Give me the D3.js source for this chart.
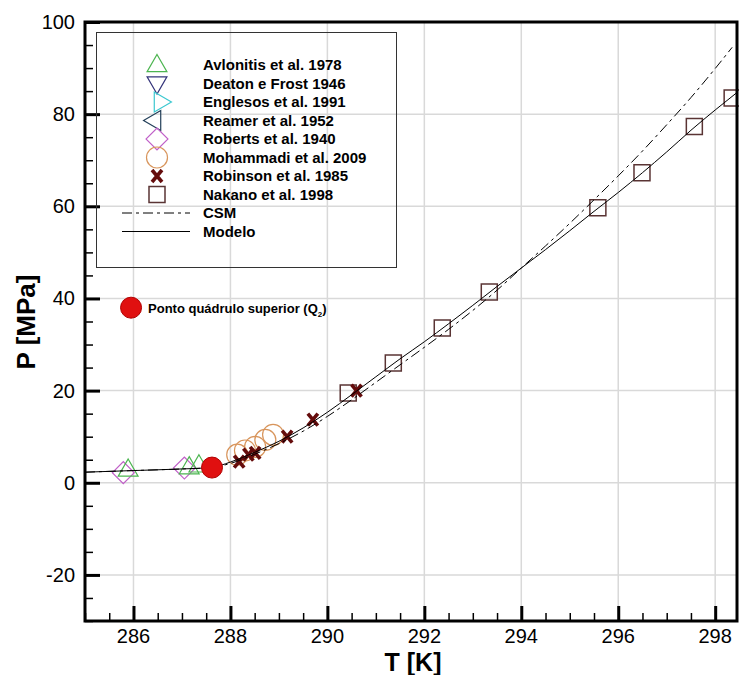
<!DOCTYPE html>
<html>
<head>
<meta charset="utf-8">
<script src="https://cdn.jsdelivr.net/npm/d3@7"></script>
<style>
	body { margin: 0; background: #fff; }
	svg { font-family: "Liberation Sans", Arial, sans-serif; }
</style>
</head>
<body>
<div id="chart"></div>
<script>
// data: T [K], P [MPa]
const avlonitisT = [285.89, 287.15, 287.35];
const avlonitisP = [2.9, 3.4, 3.8];
const robertsT = [285.79, 287.05];
const robertsP = [2.2, 3.2];
const mohammadiT = [288.14, 288.3, 288.51, 288.72, 288.88];
const mohammadiP = [6.1, 7.0, 7.8, 9.3, 10.4];
const robinsonT = [288.18, 288.37, 288.51, 289.17, 289.7, 290.6];
const robinsonP = [4.6, 6.1, 6.5, 10.0, 13.7, 20.0];
const nakanoT = [290.43, 291.36, 292.37, 293.34, 295.58, 296.49, 297.57, 298.35];
const nakanoP = [19.5, 26.0, 33.6, 41.4, 59.7, 67.3, 77.3, 83.5];
const modeloT = [285, 286, 287, 287.6, 288, 288.5, 289, 289.5, 290, 290.5, 291, 291.5, 292, 292.5, 293, 293.5, 294, 294.5, 295, 295.5, 296, 296.5, 297, 297.5, 298, 298.45];
const modeloP = [2.3, 2.65, 3.0, 3.3, 4.5, 6.6, 9.0, 11.9, 15.3, 19.1, 23.0, 26.9, 30.6, 34.5, 38.5, 42.6, 46.6, 50.6, 54.7, 58.9, 63.0, 67.3, 71.8, 76.5, 80.9, 84.7];
const csmT = [285, 286, 287, 287.6, 288, 288.5, 289, 289.5, 290, 290.5, 291, 291.5, 292, 292.5, 293, 293.5, 294, 294.5, 295, 295.5, 296, 296.5, 297, 297.5, 298, 298.35];
const csmP = [2.3, 2.65, 3.0, 3.3, 4.2, 6.2, 8.5, 11.2, 14.4, 18.0, 21.8, 25.6, 29.4, 33.3, 37.4, 41.8, 46.6, 51.4, 56.3, 61.4, 66.6, 72.0, 77.7, 83.6, 89.9, 94.5];
const quadPoint = [287.62, 3.3];
const quadLabelPoint = [285.95, 38.0];
const quadLabel = 'Ponto quádrulo superior (Q';
const xTicks = [286, 288, 290, 292, 294, 296, 298];
const yTicks = [-20, 0, 20, 40, 60, 80, 100];
const legendNames = ['Avlonitis et al. 1978', 'Deaton e Frost 1946', 'Englesos et al. 1991', 'Reamer et al. 1952',
	'Roberts et al. 1940', 'Mohammadi et al. 2009', 'Robinson et al. 1985', 'Nakano et al. 1998', 'CSM', 'Modelo'];

const width = 739;
const height = 675;
const plot = { left: 85, right: 737, top: 22, bottom: 621 };

const svg = d3.select('#chart').append('svg')
	.attr('width', width)
	.attr('height', height);

const x = d3.scaleLinear().domain([285, 298.45]).range([plot.left, plot.right]);
const y = d3.scaleLinear().domain([-30, 100]).range([plot.bottom, plot.top]);

// grid
const grid = svg.append('g');
grid.selectAll('.gx').data(xTicks).enter().append('line')
	.attr('x1', d => x(d)).attr('x2', d => x(d))
	.attr('y1', plot.top).attr('y2', plot.bottom)
	.style('stroke', '#d9d9d9').style('stroke-width', 1.5);
grid.selectAll('.gy').data(yTicks).enter().append('line')
	.attr('x1', plot.left).attr('x2', plot.right)
	.attr('y1', d => y(d)).attr('y2', d => y(d))
	.style('stroke', '#d9d9d9').style('stroke-width', 1.5);

// axes (ticks pointing inward)
const xAxis = d3.axisTop(x)
	.tickValues(d3.range(285, 298.5, 0.5))
	.tickSize(8)
	.tickFormat('');
const yAxis = d3.axisRight(y)
	.tickValues(d3.range(-30, 100.1, 5))
	.tickSize(8)
	.tickFormat('');

const xAxisG = svg.append('g')
	.attr('transform', `translate(0, ${plot.bottom})`)
	.call(xAxis);
const yAxisG = svg.append('g')
	.attr('transform', `translate(${plot.left}, 0)`)
	.call(yAxis);
[xAxisG, yAxisG].forEach(g => {
	g.select('.domain').remove();
	g.selectAll('line').style('stroke', '#000').style('stroke-width', 1.5);
});
xAxisG.selectAll('.tick line').filter(d => xTicks.includes(d))
	.attr('y2', -15).style('stroke-width', 3);
yAxisG.selectAll('.tick line').filter(d => yTicks.includes(d))
	.attr('x2', 15).style('stroke-width', 3);

// tick labels
svg.append('g').selectAll('text').data(xTicks).enter().append('text')
	.attr('x', d => x(d))
	.attr('y', plot.bottom + 22)
	.style('font-size', '20px')
	.style('text-anchor', 'middle')
	.text(d => d);
svg.append('g').selectAll('text').data(yTicks).enter().append('text')
	.attr('x', plot.left - 10)
	.attr('y', d => y(d) + 7)
	.style('font-size', '20px')
	.style('text-anchor', 'end')
	.text(d => d);

// axis titles
svg.append('text')
	.attr('x', (plot.left + plot.right) / 2 + 2)
	.attr('y', 671)
	.style('font-size', '25px')
	.style('font-weight', 700)
	.style('text-anchor', 'middle')
	.text('T [K]');
svg.append('text')
	.attr('transform', 'rotate(-90)')
	.attr('x', -322)
	.attr('y', 35)
	.style('font-size', '26px')
	.style('font-weight', 700)
	.style('text-anchor', 'middle')
	.text('P [MPa]');

// marker shapes
const colors = {
	avlonitis: '#4cb550', deaton: '#34347a', englesos: '#3cc8d0', reamer: '#24405a',
	roberts: '#c060c8', mohammadi: '#d8955c', robinson: '#650c0c', nakano: '#5a3434'
};
const tri = d3.symbol().type(d3.symbolTriangle).size(170);
const sq = d3.symbol().type(d3.symbolSquare).size(256);
const dia = d3.symbol().type(d3.symbolSquare).size(240);

function drawMarker(g, kind, cx, cy) {
	const m = g.append('g').attr('transform', `translate(${cx}, ${cy})`);
	const hollow = p => p.style('fill', 'none').style('stroke-width', 1.2);
	if (kind === 'avlonitis') {
		hollow(m.append('path').attr('d', tri()).attr('transform', 'translate(0,1)')).style('stroke', colors.avlonitis);
	} else if (kind === 'deaton') {
		hollow(m.append('path').attr('d', tri()).attr('transform', 'translate(0,-1) rotate(180)')).style('stroke', colors.deaton);
	} else if (kind === 'englesos') {
		hollow(m.append('path').attr('d', tri()).attr('transform', 'translate(3,0) rotate(90)')).style('stroke', colors.englesos);
	} else if (kind === 'reamer') {
		hollow(m.append('path').attr('d', tri()).attr('transform', 'translate(-2,0) rotate(-90)')).style('stroke', colors.reamer);
	} else if (kind === 'roberts') {
		hollow(m.append('path').attr('d', dia()).attr('transform', 'rotate(45)')).style('stroke', colors.roberts);
	} else if (kind === 'mohammadi') {
		hollow(m.append('circle').attr('r', 10.5)).style('stroke', colors.mohammadi);
	} else if (kind === 'robinson') {
		m.append('path').attr('d', 'M-5,-6L5,6M5,-6L-5,6')
			.style('stroke', colors.robinson).style('stroke-width', 3.6).style('fill', 'none');
	} else if (kind === 'nakano') {
		hollow(m.append('path').attr('d', sq())).style('stroke', colors.nakano).style('stroke-width', 1.5);
	}
}

// legend box (grid shows through)
const legend = svg.append('g');
legend.append('rect')
	.attr('x', 96.5).attr('y', 32.5)
	.attr('width', 300).attr('height', 235)
	.style('fill', 'none').style('stroke', '#333').style('stroke-width', 1);
legendNames.forEach((name, i) => {
	const ly = 70 + i * 18.5;
	const kinds = ['avlonitis', 'deaton', 'englesos', 'reamer', 'roberts', 'mohammadi', 'robinson', 'nakano'];
	if (i < kinds.length) {
		drawMarker(legend, kinds[i], 157, ly - 5);
	} else {
		legend.append('line')
			.attr('x1', 122).attr('x2', 190)
			.attr('y1', ly - 5).attr('y2', ly - 5)
			.style('stroke', '#000').style('stroke-width', 1)
			.style('stroke-dasharray', name === 'CSM' ? '10,4,3,4' : null);
	}
	legend.append('text')
		.attr('x', 203).attr('y', ly)
		.style('font-size', '15px')
		.style('font-weight', 700)
		.text(name);
});

// data markers (hollow ones under the curves)
const markers = svg.append('g');
robertsT.forEach((t, i) => drawMarker(markers, 'roberts', x(t), y(robertsP[i])));
avlonitisT.forEach((t, i) => drawMarker(markers, 'avlonitis', x(t), y(avlonitisP[i])));
mohammadiT.forEach((t, i) => drawMarker(markers, 'mohammadi', x(t), y(mohammadiP[i])));
nakanoT.forEach((t, i) => drawMarker(markers, 'nakano', x(t), y(nakanoP[i])));

// curves
const lineFunc = d3.line()
	.x(d => x(d[0]))
	.y(d => y(d[1]))
	.curve(d3.curveMonotoneX);
svg.append('path')
	.attr('d', lineFunc(csmT.map((t, i) => [t, csmP[i]])))
	.style('fill', 'none').style('stroke', '#000').style('stroke-width', 1)
	.style('stroke-dasharray', '10,4,3,4');
svg.append('path')
	.attr('d', lineFunc(modeloT.map((t, i) => [t, modeloP[i]])))
	.style('fill', 'none').style('stroke', '#000').style('stroke-width', 1);

robinsonT.forEach((t, i) => drawMarker(markers, 'robinson', x(t), y(robinsonP[i])));

// upper quadruple point + annotation
svg.append('circle')
	.attr('cx', x(quadPoint[0])).attr('cy', y(quadPoint[1])).attr('r', 10.5)
	.style('fill', '#e01010').style('stroke', '#b00000');
svg.append('circle')
	.attr('cx', x(quadLabelPoint[0])).attr('cy', y(quadLabelPoint[1])).attr('r', 10.5)
	.style('fill', '#e01010').style('stroke', '#b00000');
const ann = svg.append('text')
	.attr('x', x(quadLabelPoint[0]) + 17)
	.attr('y', y(quadLabelPoint[1]) + 5)
	.style('font-size', '13px')
	.style('font-weight', 700);
ann.append('tspan').text(quadLabel);
ann.append('tspan').attr('dy', 4).style('font-size', '8px').text('2');
ann.append('tspan').attr('dy', -4).text(')');

// frame
svg.append('rect')
	.attr('x', plot.left).attr('y', plot.top)
	.attr('width', plot.right - plot.left).attr('height', plot.bottom - plot.top)
	.style('fill', 'none').style('stroke', '#000').style('stroke-width', 3);
</script>
</body>
</html>
